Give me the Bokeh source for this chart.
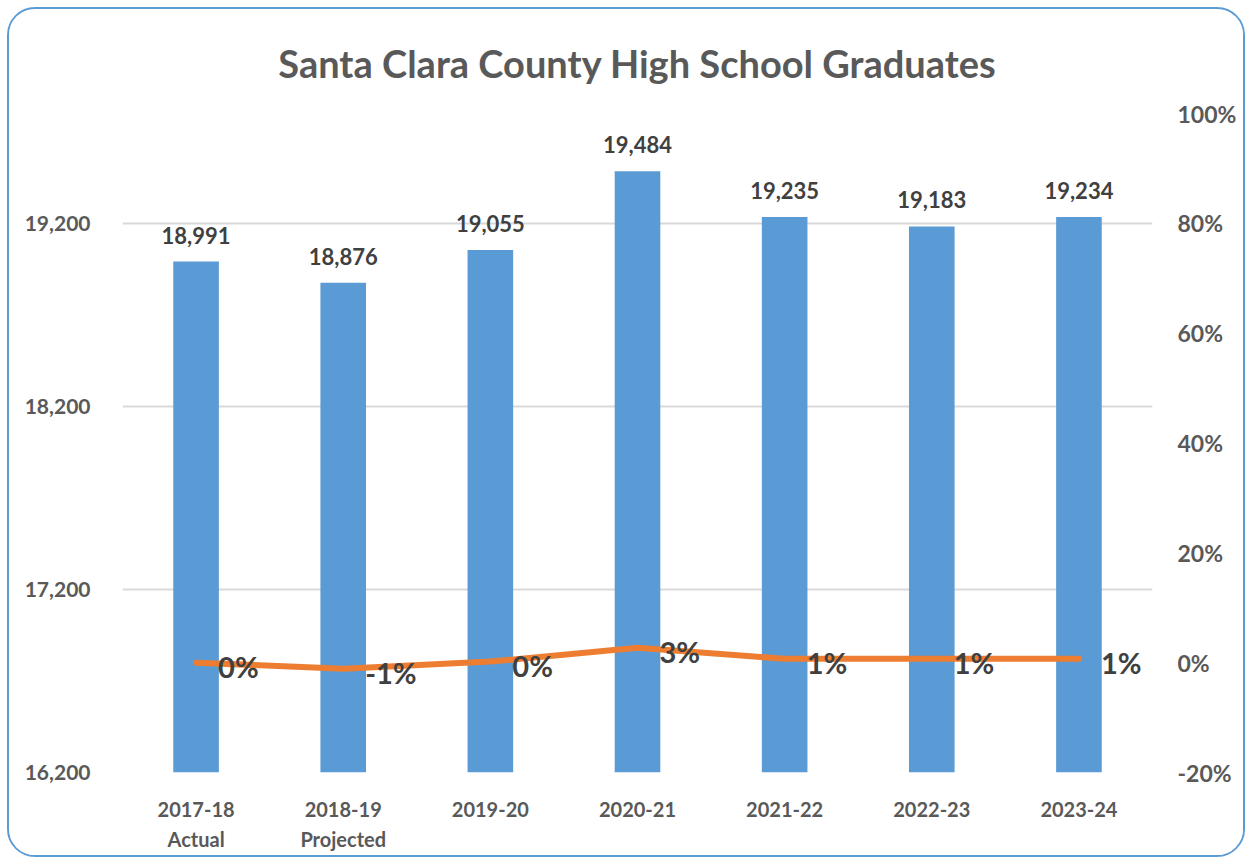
from bokeh.plotting import figure
from bokeh.models import (ColumnDataSource, Range1d, LinearAxis, FixedTicker,
                          NumeralTickFormatter, LabelSet, Title)
from bokeh.core.properties import value
from bokeh.embed import file_html
from bokeh.resources import INLINE

# ---- data ----
years = ["2017-18\nActual", "2018-19\nProjected", "2019-20", "2020-21",
         "2021-22", "2022-23", "2023-24"]
graduates = [18991, 18876, 19055, 19484, 19235, 19183, 19234]
pct_change = [0.0, -1.1, 0.2, 2.7, 0.7, 0.7, 0.7]   # percent
left_ticks = [16200, 17200, 18200, 19200]
right_ticks = [-0.2, 0.0, 0.2, 0.4, 0.6, 0.8, 1.0]
title_text = "Santa Clara County High School Graduates"

FONT = "Lato"
BAR = "#5B9BD5"
LINE = "#ED7D31"
AXC = "#595959"
LBL = "#404040"

W, H = 1238, 850
OX, OY = 9, 9  # canvas offset on the page (margin + border)

src = ColumnDataSource(dict(
    x=years,
    g=graduates,
    glab=[f"{v:,}" for v in graduates],
    p=[v / 100 for v in pct_change],
    plab=[f"{round(v)}%" for v in pct_change],
))

p = figure(x_range=years, y_range=Range1d(16200, 19800), width=W, height=H,
           output_backend="svg", toolbar_location=None,
           min_border_left=122 - OX, min_border_right=W - (1152 - OX),
           min_border_top=112 - OY, min_border_bottom=H - (772 - OY))
p.extra_y_ranges = {"pct": Range1d(-0.2, 1.0)}

p.title = Title(text=title_text, align="center",
                text_font=FONT, text_font_size="38px", text_font_style="bold",
                text_color=AXC, standoff=56)

p.outline_line_color = None
p.background_fill_color = "white"
p.border_fill_color = "white"
p.styles = {"border": "2px solid #5B9BD5", "border-radius": "28px",
            "overflow": "hidden", "margin": "7px 0 0 7px"}

# bars
p.vbar(x="x", top="g", bottom=16200, width=0.31, source=src,
       fill_color=BAR, line_color=None)

# line
p.line(x="x", y="p", source=src, y_range_name="pct", line_color=LINE,
       line_width=6, line_cap="round", line_join="round")

# bar labels
p.add_layout(LabelSet(x="x", y="g", text="glab", source=src, text_align="center",
                      text_baseline="bottom", y_offset=18, text_font=value(FONT),
                      text_font_size=value("22px"), text_font_style="bold",
                      text_color=LBL))
# line labels
p.add_layout(LabelSet(x="x", y="p", text="plab", source=src, y_range_name="pct",
                      text_align="left", text_baseline="middle", x_offset=22,
                      y_offset=-4, text_font=value(FONT),
                      text_font_size=value("29px"),
                      text_font_style="bold", text_color=LBL))

# left axis
ya = p.yaxis[0]
ya.ticker = FixedTicker(ticks=left_ticks)
ya.formatter = NumeralTickFormatter(format="0,0")
ya.axis_line_color = None
ya.major_tick_line_color = None
ya.minor_tick_line_color = None
ya.major_label_text_font = FONT
ya.major_label_text_font_size = "21px"
ya.major_label_text_font_style = "bold"
ya.major_label_text_color = AXC
ya.major_label_standoff = 26

# right axis
ra = LinearAxis(y_range_name="pct", ticker=FixedTicker(ticks=right_ticks),
                formatter=NumeralTickFormatter(format="0%"))
ra.axis_line_color = None
ra.major_tick_line_color = None
ra.minor_tick_line_color = None
ra.major_label_text_font = FONT
ra.major_label_text_font_size = "23px"
ra.major_label_text_font_style = "bold"
ra.major_label_text_color = AXC
ra.major_label_standoff = 19
p.add_layout(ra, "right")

# x axis
xa = p.xaxis[0]
xa.axis_line_color = None
xa.major_tick_line_color = None
xa.minor_tick_line_color = None
xa.major_label_text_font = FONT
xa.major_label_text_font_size = "20px"
xa.major_label_text_font_style = "bold"
xa.major_label_text_color = AXC
xa.major_label_standoff = 18
xa.major_label_text_line_height = 1.25

p.xgrid.grid_line_color = None
p.ygrid.grid_line_color = "#D9D9D9"
p.ygrid.grid_line_width = 2

open("out.html", "w").write(file_html(p, INLINE))
